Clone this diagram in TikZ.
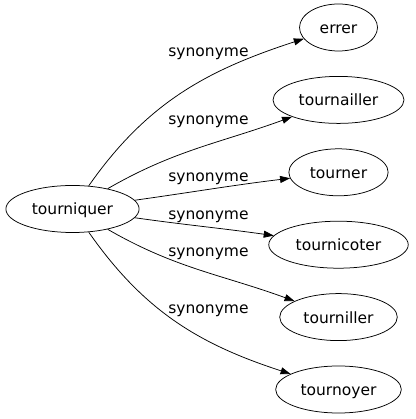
\documentclass[tikz,border=0pt]{standalone}
\usepackage{fontspec}
\setmainfont{DejaVu Sans}
\usetikzlibrary{shapes.geometric, arrows.meta}

\begin{document}
\begin{tikzpicture}[x=1pt, y=1pt, line width=0.75pt,
            word/.style={ellipse, draw, minimum height=47pt, minimum width=78pt, inner xsep=6.5pt, inner ysep=2pt, text height=12pt, text depth=0pt, font=\fontsize{15.5}{18}\selectfont},
            rel/.style={anchor=base, font=\fontsize{15.5}{18}\selectfont},
            syn/.style={-{Triangle[length=10pt, width=7pt]}}]
            \useasboundingbox (0,0) rectangle (415,419);

            %nodes
            \node[word] (tq) at (72.5, 210) {tourniquer};
            \node[word] (errer) at (338.5, 391.5) {errer};
            \node[word] (tournailler) at (338.5, 319.1) {tournailler};
            \node[word] (tourner) at (338.5, 246.7) {tourner};
            \node[word] (tournicoter) at (338.5, 174.3) {tournicoter};
            \node[word] (tourniller) at (338.5, 101.9) {tourniller};
            \node[word] (tournoyer) at (338.5, 29.5) {tournoyer};

            %labels
            \node[rel] (l1) at (208.5, 362) {synonyme};
            \node[rel] (l2) at (208.5, 294) {synonyme};
            \node[rel] (l3) at (208.5, 237) {synonyme};
            \node[rel] (l4) at (208.5, 199) {synonyme};
            \node[rel] (l5) at (208.5, 162) {synonyme};
            \node[rel] (l6) at (208.5, 105) {synonyme};

            %edges
            \draw[syn] (tq) to[out=55, in=198] (errer);
            \draw[syn] (tq) to[out=30, in=200] (tournailler);
            \draw[syn] (tq) to[out=8, in=187] (tourner);
            \draw[syn] (tq) to[out=-8, in=172] (tournicoter);
            \draw[syn] (tq) to[out=-30, in=160] (tourniller);
            \draw[syn] (tq) to[out=-55, in=162] (tournoyer);
        \end{tikzpicture}
\end{document}
